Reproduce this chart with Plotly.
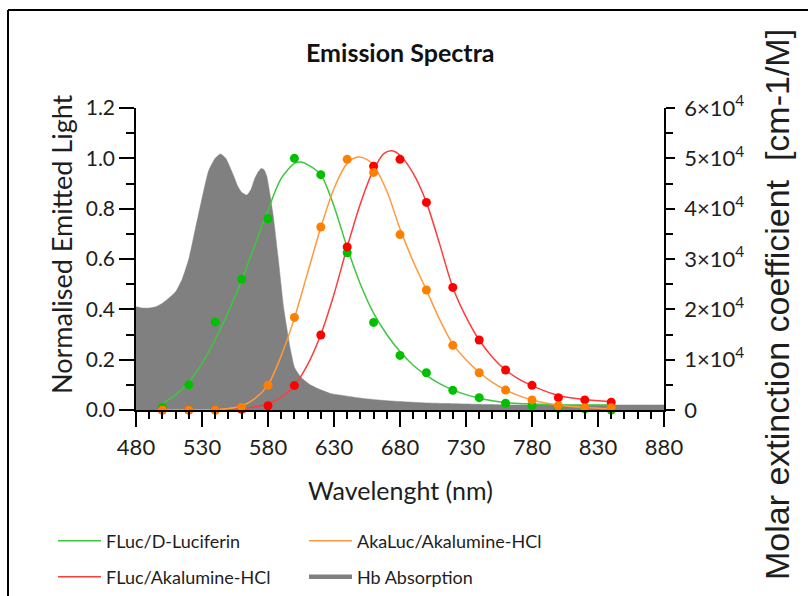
import plotly.graph_objects as go

# ---------------- data ----------------
wavelength_pts = [500, 520, 540, 560, 580, 600, 620, 640, 660, 680, 700, 720, 740, 760, 780, 800, 820, 840]
fluc_dluc_pts = [0.01, 0.10, 0.35, 0.52, 0.76, 1.00, 0.935, 0.625, 0.348, 0.217, 0.148, 0.078, 0.049, 0.027, 0.017, 0.007, 0.005, 0.0]
akaluc_aka_pts = [0.0, 0.0, 0.0, 0.01, 0.098, 0.368, 0.727, 0.996, 0.944, 0.697, 0.477, 0.257, 0.148, 0.079, 0.04, 0.017, 0.009, 0.009]
fluc_aka_pts = [0.0, 0.0, 0.0, 0.003, 0.017, 0.097, 0.298, 0.648, 0.969, 0.996, 0.825, 0.487, 0.278, 0.159, 0.098, 0.049, 0.04, 0.031]

fit_wl_green = [500, 510, 520, 530, 540, 550, 560, 570, 580, 590, 600, 605, 610, 620, 630, 640, 650, 660, 670, 680, 690, 700, 710, 720, 730, 740, 750, 760, 770, 780, 800, 820, 840]
fit_green = [0.025, 0.06, 0.11, 0.185, 0.28, 0.39, 0.515, 0.655, 0.795, 0.92, 0.98, 0.985, 0.975, 0.935, 0.81, 0.645, 0.5, 0.385, 0.3, 0.232, 0.178, 0.138, 0.105, 0.08, 0.061, 0.047, 0.037, 0.03, 0.026, 0.024, 0.021, 0.02, 0.02]

fit_wl_orange = [500, 520, 540, 550, 560, 570, 580, 590, 600, 610, 620, 630, 640, 648, 655, 660, 670, 680, 690, 700, 710, 720, 730, 740, 750, 760, 770, 780, 790, 800, 820, 840]
fit_orange = [0.0, 0.0, 0.002, 0.006, 0.016, 0.045, 0.1, 0.215, 0.365, 0.545, 0.725, 0.88, 0.98, 1.005, 0.995, 0.972, 0.87, 0.72, 0.59, 0.477, 0.36, 0.262, 0.2, 0.15, 0.11, 0.08, 0.057, 0.04, 0.028, 0.02, 0.01, 0.005]

fit_wl_red = [540, 560, 570, 580, 590, 600, 610, 620, 630, 640, 650, 660, 668, 674, 680, 690, 700, 710, 720, 730, 740, 750, 760, 770, 780, 790, 800, 820, 840]
fit_red = [0.0, 0.006, 0.012, 0.025, 0.05, 0.097, 0.18, 0.3, 0.46, 0.648, 0.82, 0.955, 1.02, 1.03, 1.012, 0.94, 0.825, 0.66, 0.487, 0.37, 0.278, 0.21, 0.159, 0.123, 0.097, 0.075, 0.058, 0.042, 0.033]

hb_wl = [480, 485, 490, 495, 500, 505, 510, 515, 520, 525, 530, 535, 540, 544, 548, 551, 554, 557, 560, 564, 567, 570, 573, 575, 577, 579, 582, 584, 588, 592, 597, 600, 605, 612, 620, 627, 640, 652, 670, 700, 730, 766, 800, 840, 880]
hb_abs = [20500, 20250, 20250, 20500, 21200, 22250, 23500, 26000, 30000, 36000, 42000, 47500, 50000, 50850, 50000, 48350, 46500, 44500, 43250, 42700, 43750, 46000, 47500, 48000, 47750, 46500, 42000, 38500, 29500, 20000, 12000, 8500, 6500, 5000, 4000, 3300, 2750, 2300, 1850, 1400, 1200, 1000, 1000, 1000, 1000]

left_ticks = [0.0, 0.2, 0.4, 0.6, 0.8, 1.0, 1.2]
right_tickvals = [0, 10000, 20000, 30000, 40000, 50000, 60000]
right_ticktext = ["0", "1×10<sup>4</sup>", "2×10<sup>4</sup>", "3×10<sup>4</sup>",
                  "4×10<sup>4</sup>", "5×10<sup>4</sup>", "6×10<sup>4</sup>"]

names = ["FLuc/D-Luciferin", "AkaLuc/Akalumine-HCl", "FLuc/Akalumine-HCl", "Hb Absorption"]
title_text = "Emission Spectra"
x_title = "Wavelenght (nm)"
y_left_title = "Normalised Emitted Light"
y_right_title = "Molar extinction coefficient\u00a0 [cm-1/M]"

# ---------------- geometry ----------------
W, H = 808, 596
L, R, T, B = 136, 664, 108, 410   # plot area in pixels


def px(x):
    return (x - L) / (R - L)


def py(y):
    return (B - y) / (B - T)


FONT = "Lato"
TXT = "#1e1e1e"
GREEN_L, GREEN_M = "#3cc83c", "#00c000"
ORANGE_L, ORANGE_M = "#ff9a3c", "#ff8000"
RED_L, RED_M = "#ff3c3c", "#ff0000"
GRAY = "#808080"

fig = go.Figure()

# Hb absorption (base y axis, right side, drawn below)
fig.add_trace(go.Scatter(x=hb_wl, y=hb_abs, yaxis="y", mode="lines", fill="tozeroy",
                         fillcolor=GRAY, line=dict(color=GRAY, width=0.5, shape="spline", smoothing=0.5),
                         showlegend=False, hoverinfo="skip"))

# fitted lines
fig.add_trace(go.Scatter(x=fit_wl_green, y=fit_green, yaxis="y2", mode="lines", name=names[0],
                         line=dict(color=GREEN_L, width=1.5, shape="spline", smoothing=0.8), legend="legend"))
fig.add_trace(go.Scatter(x=fit_wl_red, y=fit_red, yaxis="y2", mode="lines", name=names[2],
                         line=dict(color=RED_L, width=1.5, shape="spline", smoothing=0.8), legend="legend3"))
fig.add_trace(go.Scatter(x=fit_wl_orange, y=fit_orange, yaxis="y2", mode="lines", name=names[1],
                         line=dict(color=ORANGE_L, width=1.5, shape="spline", smoothing=0.8), legend="legend2"))

# data points
for vals, col in [(fluc_dluc_pts, GREEN_M), (fluc_aka_pts, RED_M), (akaluc_aka_pts, ORANGE_M)]:
    fig.add_trace(go.Scatter(x=wavelength_pts, y=vals, yaxis="y2", mode="markers",
                             marker=dict(color=col, size=9), showlegend=False, cliponaxis=False))

# legend-only entry for Hb
fig.add_trace(go.Scatter(x=[None], y=[None], yaxis="y", mode="lines", name=names[3],
                         line=dict(color=GRAY, width=4.5), legend="legend4"))

leg_common = dict(orientation="v", xanchor="left", yanchor="middle", bgcolor="rgba(0,0,0,0)",
                  font=dict(family=FONT, size=18, color=TXT), itemwidth=43)

fig.update_layout(
    width=W, height=H,
    margin=dict(l=L, r=W - R, t=T, b=H - B, autoexpand=False),
    paper_bgcolor="white", plot_bgcolor="white",
    font=dict(family=FONT, color=TXT),
    xaxis=dict(range=[480, 880], tickmode="linear", tick0=480, dtick=50,
               ticks="outside", ticklen=15, tickwidth=1.5, tickcolor="black", ticklabelstandoff=2,
               showline=True, linecolor="black", linewidth=1.5, showgrid=False, zeroline=False,
               minor=dict(dtick=10, tick0=480, ticks="outside", ticklen=7, tickwidth=1.5, tickcolor="black", showgrid=False),
               tickfont=dict(family=FONT, size=22, color=TXT)),
    yaxis=dict(range=[0, 60000], side="right", tickmode="array", tickvals=right_tickvals, ticktext=right_ticktext,
               ticks="outside", ticklen=9, tickwidth=1.5, tickcolor="black", ticklabelstandoff=5,
               showline=True, linecolor="black", linewidth=1.5, showgrid=False, zeroline=False,
               minor=dict(tickmode="linear", tick0=0, dtick=5000, ticks="outside", ticklen=7, tickwidth=1.5,
                          tickcolor="black", showgrid=False),
               tickfont=dict(family=FONT, size=22, color=TXT)),
    yaxis2=dict(range=[0, 1.2], overlaying="y", side="left", tickmode="array", tickvals=left_ticks,
                tickformat=".1f", ticks="outside", ticklen=15, tickwidth=1.5, tickcolor="black",
                showline=True, linecolor="black", linewidth=1.5, showgrid=False, zeroline=False,
                minor=dict(tickmode="linear", tick0=0, dtick=0.1, ticks="outside", ticklen=8, tickwidth=1.5,
                           tickcolor="black", showgrid=False),
                tickfont=dict(family=FONT, size=21, color=TXT)),
    legend=dict(leg_common, x=px(53), y=py(541)),
    legend2=dict(leg_common, x=px(304), y=py(541)),
    legend3=dict(leg_common, x=px(53), y=py(577)),
    legend4=dict(leg_common, x=px(304), y=py(577)),
    annotations=[
        dict(text="<b>" + title_text + "</b>", xref="paper", yref="paper", x=px(400), y=py(52),
             xanchor="center", yanchor="middle", showarrow=False, font=dict(family=FONT, size=25, color="#111")),
        dict(text=x_title, xref="paper", yref="paper", x=px(400), y=py(490),
             xanchor="center", yanchor="middle", showarrow=False, font=dict(family=FONT, size=25, color=TXT)),
        dict(text=y_left_title, xref="paper", yref="paper", x=px(61), y=py(244), textangle=-90,
             xanchor="center", yanchor="middle", showarrow=False, font=dict(family=FONT, size=27, color=TXT)),
        dict(text=y_right_title, xref="paper", yref="paper", x=px(777), y=py(305), textangle=-90,
             xanchor="center", yanchor="middle", showarrow=False,
             font=dict(family="Liberation Sans", size=34, color=TXT)),
    ],
    shapes=[
        dict(type="line", xref="paper", yref="paper", x0=px(8), x1=px(820), y0=py(10), y1=py(10),
             line=dict(color="black", width=2)),
        dict(type="line", xref="paper", yref="paper", x0=px(8), x1=px(8), y0=py(10), y1=py(610),
             line=dict(color="black", width=2)),
    ],
)

fig.write_html("out.html", config={"displayModeBar": False},
               post_script="document.body.style.margin='0px';")
